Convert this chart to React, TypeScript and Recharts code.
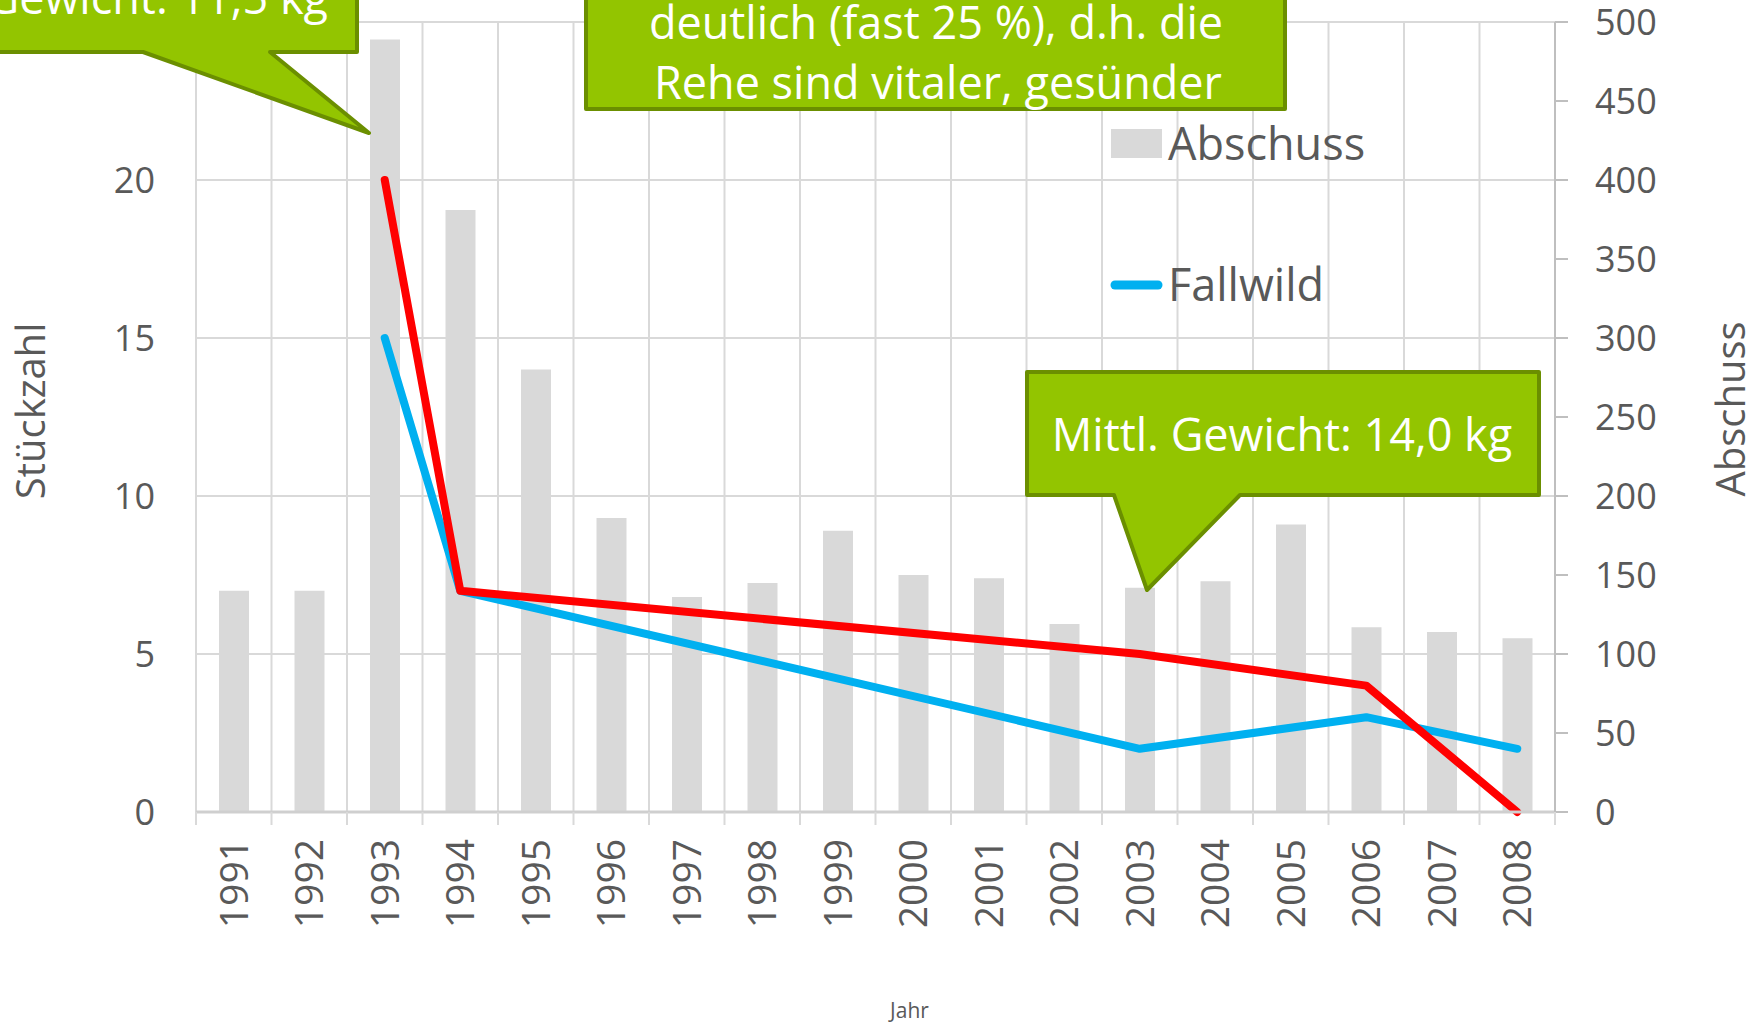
import * as React from "react"
import { ComposedChart, Bar, Line, XAxis, YAxis, CartesianGrid, Legend } from "recharts"

const years = ["1991", "1992", "1993", "1994", "1995", "1996", "1997", "1998", "1999",
  "2000", "2001", "2002", "2003", "2004", "2005", "2006", "2007", "2008"]
const abschuss = [140, 140, 489, 381, 280, 186, 136, 145, 178, 150, 148, 119, 142, 146, 182, 117, 114, 110]
const fallwild = [null, null, 15, 7, null, null, null, null, null, null, null, null, 2, null, null, 3, null, 2]
const fallwildRot = [null, null, 20, 7, null, null, null, null, null, null, null, null, 5, null, null, 4, null, 0]
const leftTicks = [0, 5, 10, 15, 20, 25]
const rightTicks = [0, 50, 100, 150, 200, 250, 300, 350, 400, 450, 500]

const data = years.map((year, i) => ({
  year,
  abschuss: abschuss[i],
  fallwild: fallwild[i],
  rot: fallwildRot[i],
}))

const FONT = "'Open Sans', sans-serif"
const GREY_TEXT = "#595959"
const GRID = "#D9D9D9"
const GREEN = "#93C500"
const GREEN_DARK = "#6B8F00"

const W = 1759
const H = 1024
const PLOT_LEFT = 196
const PLOT_RIGHT = 1555
const PLOT_TOP = 22
const PLOT_BOTTOM = 812
const BAND = (PLOT_RIGHT - PLOT_LEFT) / years.length

const YearTick = (props: any) => {
  const { x, y, payload, index, visibleTicksCount } = props
  const half = BAND / 2
  return (
    <g>
      <line x1={x - half} x2={x - half} y1={y} y2={y + 13} stroke={GRID} strokeWidth={2} />
      {index === visibleTicksCount - 1 && (
        <line x1={x + half} x2={x + half} y1={y} y2={y + 13} stroke={GRID} strokeWidth={2} />
      )}
      <text x={x} y={y + 27} transform={`rotate(-90 ${x} ${y + 27})`} textAnchor="end" dy="0.36em"
        fill={GREY_TEXT} fontSize={39}>
        {payload.value}
      </text>
    </g>
  )
}

// die 25 liegt unter der Sprechblase, nur die Gitterlinie bleibt
const LeftTick = (props: any) => {
  const { x, y, payload } = props
  if (payload.value === 25) return null
  return (
    <text x={x} y={y} textAnchor="end" dy="0.36em" fill={GREY_TEXT} fontSize={36}>{payload.value}</text>
  )
}

const leftTitle = (props: any) => {
  const { viewBox } = props
  const cx = viewBox.x + 31
  const cy = viewBox.y + viewBox.height / 2 - 6
  return (
    <text x={cx} y={cy} transform={`rotate(-90 ${cx} ${cy})`} textAnchor="middle" dy="0.35em"
      fill={GREY_TEXT} fontSize={40}>Stückzahl</text>
  )
}

const rightTitle = (props: any) => {
  const { viewBox } = props
  const cx = viewBox.x + 176
  const cy = viewBox.y + viewBox.height / 2 - 8
  return (
    <text x={cx} y={cy} transform={`rotate(-90 ${cx} ${cy})`} textAnchor="middle" dy="0.35em"
      fill={GREY_TEXT} fontSize={40}>Abschuss</text>
  )
}

const xTitle = (props: any) => {
  const { viewBox } = props
  return (
    <text x={viewBox.x + viewBox.width / 2 + 34} y={1018} textAnchor="middle"
      fill={GREY_TEXT} fontSize={21}>Jahr</text>
  )
}

const LegendContent = (props: any) => {
  const items = (props.payload || []).filter((p: any) => p.type !== "none")
  return (
    <svg width={300} height={210} style={{ fontFamily: FONT, overflow: "visible" }}>
      {items.map((item: any, i: number) => {
        const top = i * 141
        return (
          <g key={item.value}>
            {item.type === "rect"
              ? <rect x={0} y={top + 19} width={51} height={29} fill={item.color} />
              : <line x1={4} x2={47} y1={top + 34} y2={top + 34} stroke={item.color} strokeWidth={9} strokeLinecap="round" />}
            <text x={57} y={top + 50} fill={GREY_TEXT} fontSize={45}>{item.value}</text>
          </g>
        )
      })}
    </svg>
  )
}

// Sprechblasen über dem Diagramm
const Callouts = () => (
  <svg width={W} height={H} style={{ position: "absolute", left: 0, top: 0, pointerEvents: "none", fontFamily: FONT }}>
    <path d="M-20,-20 H357 V52 H270 L369,133 L143,52 H-20 Z" fill={GREEN} stroke={GREEN_DARK}
      strokeWidth={4} strokeLinejoin="round" />
    <text x={328} y={14} textAnchor="end" fill="#fff" fontSize={45}>Mittl. Gewicht: 11,5 kg</text>

    <path d="M586,-20 H1285 V109 H586 Z" fill={GREEN} stroke={GREEN_DARK} strokeWidth={4} strokeLinejoin="round" />
    <text x={936} y={39} textAnchor="middle" fill="#fff" fontSize={45}>deutlich (fast 25 %), d.h. die</text>
    <text x={938} y={99} textAnchor="middle" fill="#fff" fontSize={45}>Rehe sind vitaler, gesünder</text>

    <path d="M1027,372 H1539 V495 H1240 L1147,590 L1114,495 H1027 Z" fill={GREEN} stroke={GREEN_DARK}
      strokeWidth={4} strokeLinejoin="round" />
    <text x={1282} y={451} textAnchor="middle" fill="#fff" fontSize={45}>Mittl. Gewicht: 14,0 kg</text>
  </svg>
)

export default function App() {
  return (
    <div style={{ position: "absolute", left: 0, top: 0, width: W, height: H, background: "#fff" }}>
      <ComposedChart
        width={W}
        height={H}
        data={data}
        margin={{ top: PLOT_TOP, right: 0, bottom: 0, left: 0 }}
        style={{ fontFamily: FONT }}>
        <CartesianGrid
          yAxisId="left"
          stroke={GRID}
          strokeWidth={2}
          verticalCoordinatesGenerator={({ offset }: any) =>
            years.map((_, i) => offset.left + (i * offset.width) / years.length).concat(offset.left + offset.width)}
        />
        <XAxis
          dataKey="year"
          interval={0}
          height={H - PLOT_BOTTOM}
          tickLine={false}
          tickSize={0}
          tickMargin={0}
          axisLine={{ stroke: "#CFCFCF", strokeWidth: 3 }}
          tick={<YearTick />}
          label={xTitle}
        />
        <YAxis
          yAxisId="left"
          orientation="left"
          width={PLOT_LEFT}
          domain={[0, 25]}
          ticks={leftTicks}
          interval={0}
          axisLine={false}
          tickLine={false}
          tickSize={0}
          tickMargin={41}
          tick={<LeftTick />}
          label={leftTitle}
        />
        <YAxis
          yAxisId="right"
          orientation="right"
          width={W - PLOT_RIGHT}
          domain={[0, 500]}
          ticks={rightTicks}
          interval={0}
          axisLine={{ stroke: "#BFBFBF", strokeWidth: 2 }}
          tickLine={{ stroke: "#BFBFBF", strokeWidth: 2 }}
          tickSize={13}
          tickMargin={27}
          tick={{ fill: GREY_TEXT, fontSize: 36, textAnchor: "start" }}
          label={rightTitle}
        />
        <Legend
          layout="vertical"
          align="center"
          verticalAlign="middle"
          content={<LegendContent />}
          wrapperStyle={{ left: 1111, top: 110, width: 300, height: 210 }}
        />
        <Bar yAxisId="right" dataKey="abschuss" name="Abschuss" fill="#D9D9D9" barSize={30}
          legendType="rect" isAnimationActive={false} />
        <Line yAxisId="left" dataKey="fallwild" name="Fallwild" stroke="#00B0F0" strokeWidth={8}
          dot={false} activeDot={false} connectNulls type="linear" legendType="line"
          strokeLinecap="round" strokeLinejoin="round" isAnimationActive={false} />
        <Line yAxisId="left" dataKey="rot" name="Fallwild rot" stroke="#FF0000" strokeWidth={8}
          dot={false} activeDot={false} connectNulls type="linear" legendType="none"
          strokeLinecap="round" strokeLinejoin="round" isAnimationActive={false} />
      </ComposedChart>
      <Callouts />
    </div>
  )
}
